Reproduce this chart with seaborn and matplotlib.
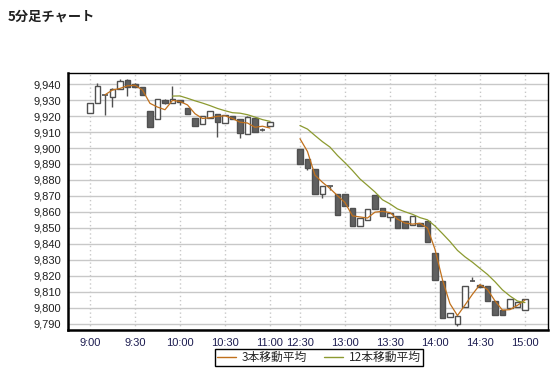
import matplotlib
matplotlib.use("Agg")
import matplotlib.pyplot as plt
from matplotlib.lines import Line2D
import seaborn as sns
import numpy as np
import pandas as pd
from matplotlib.ticker import FuncFormatter

# ---- data ----
times = (["9:00", "9:05", "9:10", "9:15", "9:20", "9:25", "9:30", "9:35", "9:40", "9:45",
          "9:50", "9:55", "10:00", "10:05", "10:10", "10:15", "10:20", "10:25", "10:30",
          "10:35", "10:40", "10:45", "10:50", "10:55", "11:00"] +
         ["12:30", "12:35", "12:40", "12:45", "12:50", "12:55", "13:00", "13:05", "13:10",
          "13:15", "13:20", "13:25", "13:30", "13:35", "13:40", "13:45", "13:50", "13:55",
          "14:00", "14:05", "14:10", "14:15", "14:20", "14:25", "14:30", "14:35", "14:40",
          "14:45", "14:50", "14:55", "15:00"])

opens = [9922, 9928, 9932.5, 9932, 9937, 9942.5, 9940, 9938, 9923, 9918,
         9930, 9928.5, 9930, 9925, 9919, 9915, 9918.5, 9921.5, 9915.5, 9920,
         9918, 9909, 9919, 9911.5, 9914,
         9899.5, 9893, 9887, 9871.5, 9876, 9871, 9871, 9862.5, 9851, 9855,
         9870.5, 9862.5, 9857, 9857.2, 9854.3, 9852, 9853.2, 9854.3, 9834.5, 9816.4,
         9794, 9789.7, 9800.5, 9816.7, 9814.3, 9813.6, 9803.9, 9798.4, 9799.5, 9800.5,
         9798.4]
closes = [9928, 9939, 9933, 9937, 9942, 9938, 9938, 9933, 9913, 9931,
          9928, 9930.5, 9929, 9921.5, 9914, 9920, 9923, 9916.5, 9921, 9918,
          9909.5, 9919.5, 9910, 9911.5, 9916,
          9890, 9887.5, 9871.5, 9876.5, 9876, 9858, 9863.5, 9851, 9856, 9861.5,
          9862, 9857.5, 9859.2, 9849.6, 9850.2, 9857.2, 9851.1, 9841.4, 9817.2, 9793.8,
          9796.4, 9794.9, 9813.6, 9816.7, 9813, 9804.3, 9795.5, 9795.5, 9805.3, 9803.6,
          9805.3]
highs = [9928, 9940.5, 9933.5, 9937.5, 9943.5, 9943, 9941, 9938.5, 9923, 9931,
         9931, 9939, 9930, 9925, 9919, 9920, 9923, 9921.5, 9921, 9920,
         9918, 9920, 9919, 9912.5, 9916,
         9899.5, 9893, 9887, 9876.5, 9876, 9871, 9871, 9862.5, 9856, 9861.5,
         9870.5, 9862.5, 9859.2, 9857.2, 9854.3, 9857.2, 9853.2, 9854.3, 9834.5, 9816.4,
         9796.4, 9795.5, 9813.6, 9819, 9814.3, 9813.6, 9803.9, 9798.4, 9805.3, 9803.6,
         9805.3]
lows = [9922, 9928, 9921, 9926, 9937, 9932.5, 9938, 9933, 9913, 9918,
        9927.5, 9928.5, 9927, 9921.5, 9914, 9915, 9918.5, 9907, 9915.5, 9918,
        9906, 9909, 9910, 9910.5, 9914,
        9890, 9886.5, 9871.5, 9869, 9873.5, 9858, 9863.5, 9851, 9851, 9855,
        9862, 9857.5, 9854.5, 9849.6, 9850.2, 9852, 9851.1, 9841.4, 9817.2, 9793.8,
        9794, 9788.6, 9800.5, 9816.7, 9813, 9804.3, 9795.5, 9795.5, 9799.5, 9800.5,
        9798.4]

tick_labels = ["9:00", "9:30", "10:00", "10:30", "11:00", "12:30",
               "13:00", "13:30", "14:00", "14:30", "15:00"]
ma_labels = ["3本移動平均", "12本移動平均"]
ma_windows = [3, 12]
title = "5分足チャート"


def slot(t):
    h, m = map(int, t.split(":"))
    mins = h * 60 + m
    if mins <= 11 * 60:
        return (mins - 9 * 60) / 5
    return (mins - (12 * 60 + 30)) / 5 + 28


df = pd.DataFrame({"time": times, "open": opens, "close": closes,
                   "high": highs, "low": lows})
df["x"] = df["time"].map(slot)
df["session"] = np.where(df["x"] <= 24, "am", "pm")
for w, lab in zip(ma_windows, ma_labels):
    df[lab] = df["close"].rolling(w).mean()

sns.set_style("white")
plt.rcParams["font.family"] = ["Liberation Sans", "DejaVu Sans"]

fig = plt.figure(figsize=(5.6, 3.7), dpi=100)
ax = fig.add_axes([68 / 560, 1 - 330 / 370, 480 / 560, 257 / 370])

# grid
ax.set_axisbelow(True)
ax.yaxis.grid(True, color="#c8c8c8", linewidth=1.0, linestyle="-")
ax.xaxis.grid(True, color="#c8c8c8", linewidth=1.0, linestyle=(0, (1, 2)))

# candles
dark = "#606060"
edge = "#505050"
width = 0.68
up = df["close"] >= df["open"]
ax.vlines(df["x"], df["low"], df["high"], color=edge, linewidth=1.0, zorder=2)
body_bottom = np.minimum(df["open"], df["close"])
body_h = np.abs(df["close"] - df["open"])
flat = body_h < 0.6
ax.bar(df["x"][~flat], body_h[~flat], bottom=body_bottom[~flat], width=width,
       color=np.where(up[~flat], "white", dark), edgecolor=edge, linewidth=1.0, zorder=3)
ax.hlines(df["close"][flat], df["x"][flat] - width / 2, df["x"][flat] + width / 2,
          color=edge, linewidth=1.2, zorder=3)

# moving averages (line broken between sessions)
ma_colors = ["#c0701c", "#8c9a30"]
for lab, col in zip(ma_labels, ma_colors):
    for sess, part in df.groupby("session"):
        sns.lineplot(data=part, x="x", y=lab, ax=ax, color=col, linewidth=0.9,
                     zorder=4, legend=False)

ax.set_xlim(-2.93, 61.07)
ax.set_ylim(9786, 9947)
ax.set_yticks(np.arange(9790, 9941, 10))
ax.yaxis.set_major_formatter(FuncFormatter(lambda v, p: f"{v:,.0f}"))
ax.set_xticks([slot(t) for t in tick_labels])
ax.set_xticklabels(tick_labels)
ax.set_xlabel("")
ax.set_ylabel("")
ax.tick_params(axis="y", direction="out", length=4, width=1, color="#404040",
               labelsize=8, labelcolor="#202020", pad=1)
ax.tick_params(axis="x", direction="out", length=0, labelsize=8,
               labelcolor="#1c1c50", pad=6)

for s in ["top", "right"]:
    ax.spines[s].set_linewidth(1.0)
    ax.spines[s].set_color("black")
for s in ["left", "bottom"]:
    ax.spines[s].set_linewidth(1.8)
    ax.spines[s].set_color("black")

handles = [Line2D([], [], color=c, linewidth=1.0) for c in ma_colors]
leg = fig.legend(handles=handles, labels=ma_labels, loc="center",
                 bbox_to_anchor=(319 / 560, 1 - 357.7 / 370), ncol=2,
                 frameon=True, fancybox=False, framealpha=1,
                 edgecolor="black", handlelength=1.6, handletextpad=0.5,
                 columnspacing=1.5, borderpad=0.15,
                 prop={"family": ["Noto Sans CJK JP", "DejaVu Sans"], "size": 8.5})
leg.get_frame().set_linewidth(1.0)

fig.text(8 / 560, 1 - 17 / 370, title, fontsize=9.5, fontweight="bold",
         family=["Noto Sans CJK JP", "DejaVu Sans"], va="center", ha="left",
         color="#202020")

fig.savefig("out.png", dpi=100, facecolor="white")
